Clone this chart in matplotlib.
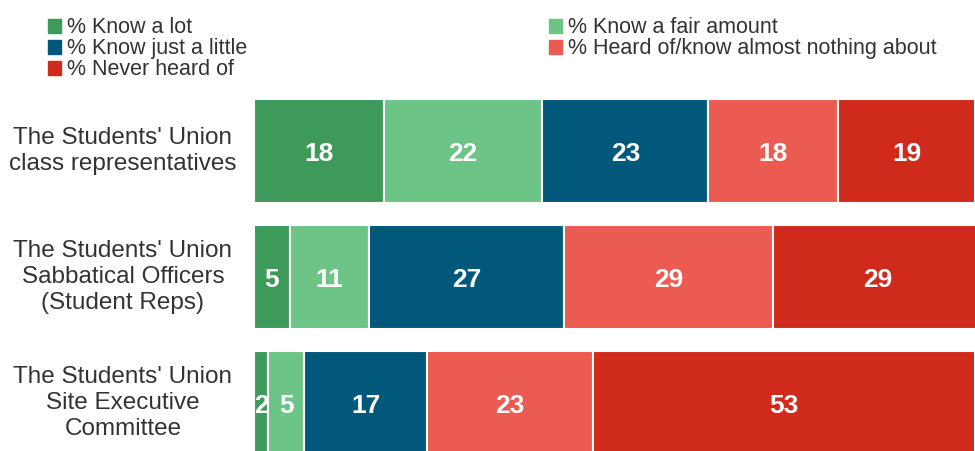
import matplotlib.pyplot as plt
from matplotlib.patches import Patch
from matplotlib import transforms

plt.rcParams["font.family"] = ["Liberation Sans", "DejaVu Sans"]

# Bekanntheit der Studierendenvertretung, Anteile in %
categories = [
    "The Students' Union\nclass representatives",
    "The Students' Union\nSabbatical Officers\n(Student Reps)",
    "The Students' Union\nSite Executive\nCommittee",
]
series = [
    "% Know a lot",
    "% Know a fair amount",
    "% Know just a little",
    "% Heard of/know almost nothing about",
    "% Never heard of",
]
know_lot = [18, 5, 2]
know_fair = [22, 11, 5]
know_little = [23, 27, 17]
heard_nothing = [18, 29, 23]
never_heard = [19, 29, 53]
values = [know_lot, know_fair, know_little, heard_nothing, never_heard]
colors = ["#3d9a5a", "#6cc486", "#02587a", "#ec5b51", "#d02a1c"]

fig = plt.figure(figsize=(9.75, 4.51), dpi=100)
ax = fig.add_axes([254 / 975, 0, 1 - 254 / 975, (451 - 88) / 451])

ypos = list(range(len(categories)))
left = [0] * len(categories)
for vals, col in zip(values, colors):
    ax.barh(ypos, vals, left=left, height=0.825, color=col,
            edgecolor="white", linewidth=1.5)
    for y, l, v in zip(ypos, left, vals):
        ax.text(l + v / 2, y + 0.02, str(v), ha="center", va="center",
                color="white", fontsize=19, fontweight="bold")
    left = [a + b for a, b in zip(left, vals)]

ax.set_xlim(0, 100)
ax.set_ylim(2.381, -0.5)
ax.axis("off")

# Kategorien mittig links neben den Balken
trans = transforms.blended_transform_factory(fig.transFigure, ax.transData)
for y, cat in zip(ypos, categories):
    ax.text(123 / 975, y, cat, transform=trans, ha="center", va="center",
            fontsize=17.5, color="#333333", linespacing=1.22, clip_on=False)

# Legende: zwei Spalten, zeilenweise gefuellt
handles = [Patch(color=c) for c in colors]
order = [0, 2, 4, 1, 3]
fig.legend([handles[i] for i in order], [series[i] for i in order],
           loc="upper left", bbox_to_anchor=(33 / 975, 0.995), ncol=2,
           frameon=False, fontsize=15.5, handlelength=0.6, handleheight=0.6,
           handletextpad=0.3, labelspacing=0.0, columnspacing=14.0,
           labelcolor="#333333", borderaxespad=0.3)

fig.savefig("out.png", dpi=100)
